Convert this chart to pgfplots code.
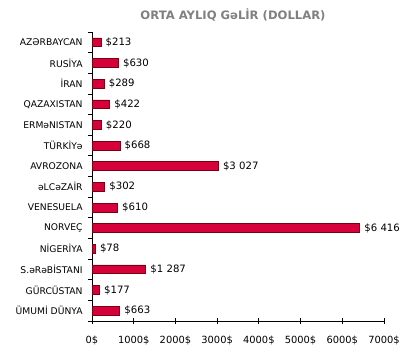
\documentclass[border=0pt]{standalone}
\usepackage{pgfplots}
\pgfplotsset{compat=1.18}
\usepackage{fontspec}
\setmainfont{DejaVu Sans}
\definecolor{barfill}{HTML}{D6003A}
\definecolor{barline}{HTML}{7A0010}
\definecolor{titlegray}{HTML}{808080}
\begin{document}
\begin{tikzpicture}[x=0.75pt,y=0.75pt]
\path[use as bounding box] (0,0) rectangle (410,361);
\node[font=\bfseries\fontsize{8.7}{10}\selectfont, text=titlegray] at (233,346) {ORTA AYLIQ GəLİR (DOLLAR)};
\begin{axis}[
  at={(92pt*0.75,40pt*0.75)}, anchor=south west,
  scale only axis, width=219pt, height=216.75pt,
  xmin=0, xmax=7000, ymin=-0.5, ymax=13.5,
  y dir=reverse,
  axis lines*=left,
  axis line style={black, line width=0.7pt},
  xbar, bar width=6.6pt,
  xtick={0,1000,...,7000},
  xticklabels={0\$,1000\$,2000\$,3000\$,4000\$,5000\$,6000\$,7000\$},
  ytick={0,...,13},
  yticklabels={AZƏRBAYCAN,RUSİYA,İRAN,QAZAXISTAN,ERMəNISTAN,TÜRKİYə,AVROZONA,əLCəZAİR,VENESUELA,NORVEÇ,NİGERİYA,S.əRəBİSTANI,GÜRCÜSTAN,ÜMUMİ DÜNYA},
  minor ytick={-0.5,0.5,...,13.5},
  major tick length=0pt,
  minor tick length=3pt,
  tick align=outside,
  extra x ticks={0,1000,...,7000}, extra x tick labels={},
  extra x tick style={major tick length=4pt, tick align=center},
  tick style={black, line width=0.6pt},
  xticklabel style={font=\fontsize{7.4}{9}\selectfont, text=black, yshift=-8pt},
  yticklabel style={font=\fontsize{6.9}{8}\selectfont, text=black, xshift=-3.5pt},
  nodes near coords, point meta=explicit symbolic,
  every node near coord/.append style={font=\fontsize{7.6}{9}\selectfont, anchor=west, xshift=0pt},
  clip=false,
]
\addplot[fill=barfill, draw=barline, line width=0.5pt] coordinates {
 (213,0) [\$213]
 (630,1) [\$630]
 (289,2) [\$289]
 (422,3) [\$422]
 (220,4) [\$220]
 (668,5) [\$668]
 (3027,6) [\$3 027]
 (302,7) [\$302]
 (610,8) [\$610]
 (6416,9) [\$6 416]
 (78,10) [\$78]
 (1287,11) [\$1 287]
 (177,12) [\$177]
 (663,13) [\$663]
};
\end{axis}
\end{tikzpicture}
\end{document}
